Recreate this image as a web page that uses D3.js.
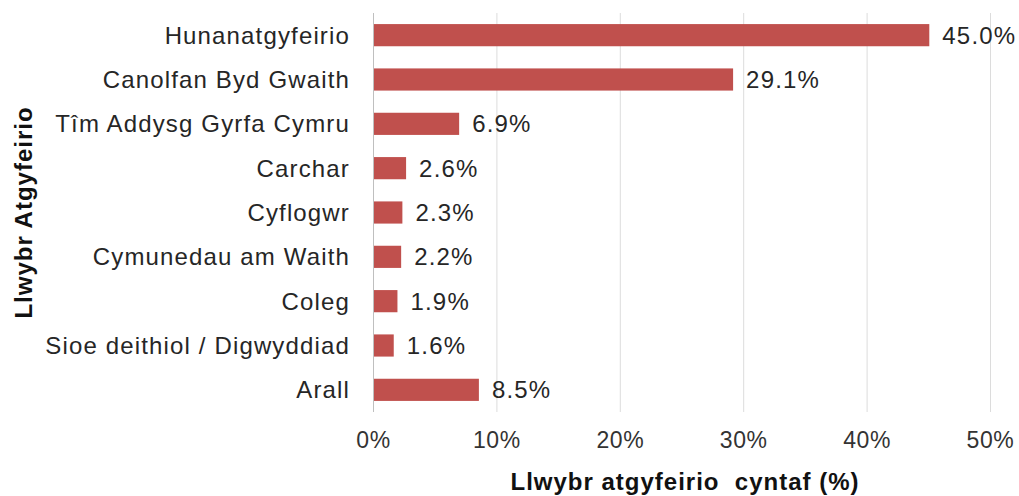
<!DOCTYPE html>
<html>
<head>
<meta charset="utf-8">
<script src="https://cdn.jsdelivr.net/npm/d3@7"></script>
<style>
  body { margin: 0; background: #fff; }
  text { font-family: "Liberation Sans", Arial, sans-serif; }
</style>
</head>
<body>
<svg id="chart"></svg>
<script>
// data
const categories = ["Hunanatgyfeirio", "Canolfan Byd Gwaith", "Tîm Addysg Gyrfa Cymru", "Carchar",
    "Cyflogwr", "Cymunedau am Waith", "Coleg", "Sioe deithiol / Digwyddiad", "Arall"]
const values = [45.0, 29.1, 6.9, 2.6, 2.3, 2.2, 1.9, 1.6, 8.5]
const xTicks = [0, 10, 20, 30, 40, 50]
const xTitle = "Llwybr atgyfeirio  cyntaf (%)"
const yTitle = "Llwybr Atgyfeirio"

const width = 1019,
    height = 496
const margin = {top: 13, right: 29, bottom: 84, left: 373}

const svg = d3.select("#chart")
    .attr("width", width)
    .attr("height", height)

const x = d3.scaleLinear()
    .domain([0, 50])
    .range([margin.left, width - margin.right])

const y = d3.scaleBand()
    .domain(categories)
    .range([margin.top, height - margin.bottom])
    .paddingInner(0.5)
    .paddingOuter(0.25)

// gridlines
svg.append("g")
    .selectAll("line")
    .data(xTicks)
    .join("line")
    .attr("x1", d => x(d) + 0.5)
    .attr("x2", d => x(d) + 0.5)
    .attr("y1", margin.top)
    .attr("y2", height - margin.bottom)
    .attr("stroke", d => d === 0 ? "#bfbfbf" : "#dcdcdc")
    .attr("stroke-width", 1)

// bars
svg.append("g")
    .selectAll("rect")
    .data(values)
    .join("rect")
    .attr("x", x(0) + 1)
    .attr("y", (d, i) => y(categories[i]))
    .attr("width", d => x(d) - x(0))
    .attr("height", y.bandwidth())
    .attr("fill", "#c0504d")

// value labels
svg.append("g")
    .selectAll("text")
    .data(values)
    .join("text")
    .attr("x", d => x(d) + 14)
    .attr("y", (d, i) => y(categories[i]) + y.bandwidth() / 2)
    .attr("dy", "0.36em")
    .style("font-size", "24px")
    .style("letter-spacing", "1.2px")
    .attr("fill", "#262626")
    .text(d => d.toFixed(1) + "%")

// category labels
const yAxis = svg.append("g")
    .attr("transform", `translate(${margin.left},0)`)
    .call(d3.axisLeft(y).tickSize(0).tickPadding(23))
yAxis.select(".domain").remove()
yAxis.selectAll("text")
    .style("font-size", "24px")
    .style("letter-spacing", "1.15px")
    .style("font-family", "Liberation Sans, Arial, sans-serif")
    .attr("fill", "#262626")
    .attr("dy", "0.36em")

// x axis tick labels
const xAxis = svg.append("g")
    .attr("transform", `translate(0,${height - margin.bottom})`)
    .call(d3.axisBottom(x).tickValues(xTicks).tickSize(0).tickPadding(20).tickFormat(d => d + "%"))
xAxis.select(".domain").remove()
xAxis.selectAll("text")
    .style("font-size", "23px")
    .style("letter-spacing", "0.6px")
    .style("font-family", "Liberation Sans, Arial, sans-serif")
    .attr("fill", "#333")

// axis titles
svg.append("text")
    .attr("x", 685)
    .attr("y", 490)
    .attr("text-anchor", "middle")
    .style("font-size", "24px")
    .style("font-weight", "bold")
    .style("letter-spacing", "1px")
    .style("white-space", "pre")
    .attr("fill", "#111")
    .text(xTitle)

svg.append("text")
    .attr("transform", `translate(32,${(margin.top + height - margin.bottom) / 2}) rotate(-90)`)
    .attr("text-anchor", "middle")
    .style("font-size", "24px")
    .style("font-weight", "bold")
    .style("letter-spacing", "1px")
    .attr("fill", "#111")
    .text(yTitle)
</script>
</body>
</html>
